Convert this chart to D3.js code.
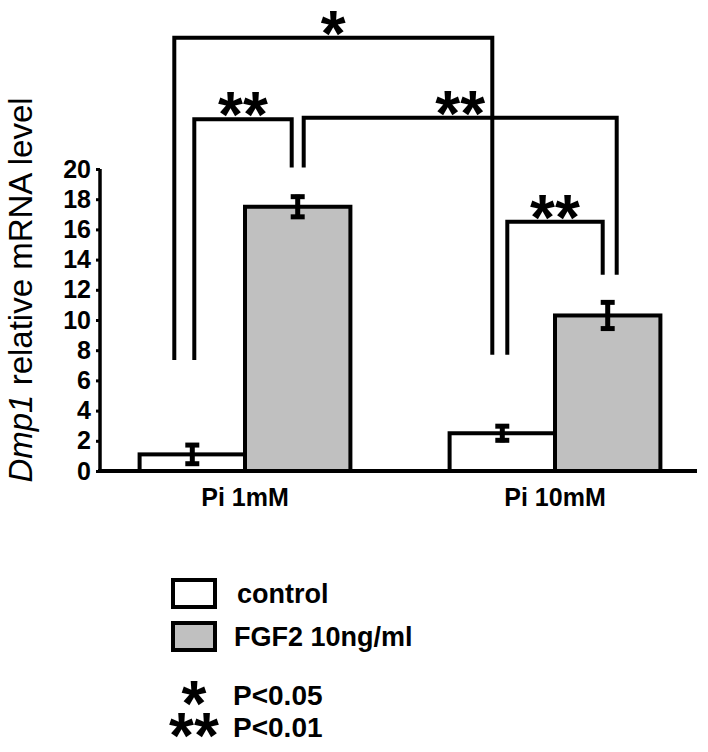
<!DOCTYPE html>
<html>
<head>
<meta charset="utf-8">
<script src="https://cdn.jsdelivr.net/npm/d3@7"></script>
<style>
  body { margin: 0; background: #fff; }
  text { font-family: "Liberation Sans", Arial, sans-serif; }
</style>
</head>
<body>
<div id="chart"></div>
<script>
// data
const groups = ["Pi 1mM", "Pi 10mM"];
const series = ["control", "FGF2 10ng/ml"];
const controlValues = [1.1, 2.5];
const controlErrors = [0.75, 0.6];
const fgf2Values = [17.5, 10.3];
const fgf2Errors = [0.8, 1.0];
const yTicks = [0, 2, 4, 6, 8, 10, 12, 14, 16, 18, 20];
const sigLabels = ["P<0.05", "P<0.01"];

const width = 708, height = 752;
const svg = d3.select("#chart").append("svg")
  .attr("width", width)
  .attr("height", height);

const x0 = d3.scaleBand()
  .domain(groups)
  .range([90, 710])
  .paddingInner(0.32)
  .paddingOuter(0.16);

const x1 = d3.scaleBand()
  .domain(series)
  .range([0, x0.bandwidth()]);

const y = d3.scaleLinear()
  .domain([0, 20])
  .range([471, 169]);

const fills = ["#ffffff", "#c0c0c0"];

const barData = [];
groups.forEach((g, i) => {
  barData.push({ group: g, s: series[0], v: controlValues[i], e: controlErrors[i], fill: fills[0] });
  barData.push({ group: g, s: series[1], v: fgf2Values[i], e: fgf2Errors[i], fill: fills[1] });
});

const cx = d => x0(d.group) + x1(d.s) + x1.bandwidth() / 2;

// bars
svg.append("g").selectAll("rect")
  .data(barData)
  .join("rect")
  .attr("x", d => x0(d.group) + x1(d.s))
  .attr("y", d => y(d.v))
  .attr("width", x1.bandwidth())
  .attr("height", d => y(0) - y(d.v))
  .attr("fill", d => d.fill)
  .attr("stroke", "#000")
  .attr("stroke-width", 4);

// error bars
const eb = svg.append("g").selectAll("g")
  .data(barData)
  .join("g");
eb.append("line")
  .attr("x1", cx).attr("x2", cx)
  .attr("y1", d => y(d.v + d.e)).attr("y2", d => y(d.v - d.e))
  .attr("stroke", "#000").attr("stroke-width", 5);
eb.append("line")
  .attr("x1", d => cx(d) - 7).attr("x2", d => cx(d) + 7)
  .attr("y1", d => y(d.v + d.e) + 2).attr("y2", d => y(d.v + d.e) + 2)
  .attr("stroke", "#000").attr("stroke-width", 5);
eb.append("line")
  .attr("x1", d => cx(d) - 7).attr("x2", d => cx(d) + 7)
  .attr("y1", d => y(d.v - d.e) - 2).attr("y2", d => y(d.v - d.e) - 2)
  .attr("stroke", "#000").attr("stroke-width", 5);

// y axis
const yAxis = svg.append("g")
  .attr("transform", "translate(100,0)")
  .call(d3.axisLeft(y).tickValues(yTicks).tickSize(4).tickPadding(5));
yAxis.select(".domain").attr("stroke-width", 3.5).attr("d", `M0,${y(20)}V${y(0)}`);
yAxis.selectAll(".tick line").attr("stroke-width", 3);
yAxis.selectAll(".tick text")
  .attr("font-size", 25)
  .attr("font-weight", "bold")
  .attr("fill", "#000");

// x axis baseline + group labels
svg.append("line")
  .attr("x1", 98).attr("x2", 697)
  .attr("y1", y(0)).attr("y2", y(0))
  .attr("stroke", "#000").attr("stroke-width", 4);

svg.append("g").selectAll("text")
  .data(groups)
  .join("text")
  .attr("x", d => x0(d) + x0.bandwidth() / 2)
  .attr("y", 506)
  .attr("text-anchor", "middle")
  .attr("font-size", 25)
  .attr("font-weight", "bold")
  .text(d => d);

// y axis title
const yt = svg.append("text")
  .attr("transform", "translate(32,290) rotate(-90)")
  .attr("text-anchor", "middle")
  .attr("font-size", 33);
yt.append("tspan").attr("font-style", "italic").text("Dmp1");
yt.append("tspan").text(" relative mRNA level");

// significance brackets: bar (group, series, pixel offset) at each end; heights in data units
const barCenter = (gi, si) => x0(groups[gi]) + x1(series[si]) + x1.bandwidth() / 2;
const brackets = [
  { a: [0, 0, -18], b: [1, 0, -10], top: 28.7, endA: 7.35, endB: 7.7, label: "*" },
  { a: [0, 0, 2], b: [0, 1, -6], top: 23.3, endA: 7.35, endB: 20.1, label: "**" },
  { a: [0, 1, 6], b: [1, 1, 9], top: 23.4, endA: 20.1, endB: 13.0, label: "**" },
  { a: [1, 0, 5], b: [1, 1, -5], top: 16.5, endA: 7.7, endB: 13.0, label: "**" }
];
const br = svg.append("g").selectAll("g").data(brackets).join("g");
br.append("path")
  .attr("fill", "none")
  .attr("stroke", "#000")
  .attr("stroke-width", 4)
  .attr("d", d => {
    const xa = barCenter(d.a[0], d.a[1]) + d.a[2];
    const xb = barCenter(d.b[0], d.b[1]) + d.b[2];
    return `M${xa},${y(d.endA)}V${y(d.top)}H${xb}V${y(d.endB)}`;
  });
br.append("text")
  .attr("x", d => (barCenter(d.a[0], d.a[1]) + d.a[2] + barCenter(d.b[0], d.b[1]) + d.b[2]) / 2)
  .attr("y", d => y(d.top) + 18)
  .attr("text-anchor", "middle")
  .attr("font-size", 64)
  .attr("font-weight", "bold")
  .text(d => d.label);

// legend
const lg = svg.append("g").selectAll("g")
  .data(series)
  .join("g")
  .attr("transform", (d, i) => `translate(173,${580 + i * 43})`);
lg.append("rect")
  .attr("width", 42).attr("height", 27)
  .attr("fill", (d, i) => fills[i])
  .attr("stroke", "#000").attr("stroke-width", 4);
lg.append("text")
  .attr("x", (d, i) => i === 0 ? 64 : 61)
  .attr("y", 23)
  .attr("font-size", 27)
  .attr("font-weight", "bold")
  .text(d => d);

const sg = svg.append("g").selectAll("g")
  .data(sigLabels)
  .join("g")
  .attr("transform", (d, i) => `translate(0,${705 + i * 32})`);
sg.append("text")
  .attr("x", 194)
  .attr("y", 21)
  .attr("text-anchor", "middle")
  .attr("font-size", 64)
  .attr("font-weight", "bold")
  .text((d, i) => "*".repeat(i + 1));
sg.append("text")
  .attr("x", 233)
  .attr("font-size", 28)
  .attr("font-weight", "bold")
  .text(d => d);
</script>
</body>
</html>
